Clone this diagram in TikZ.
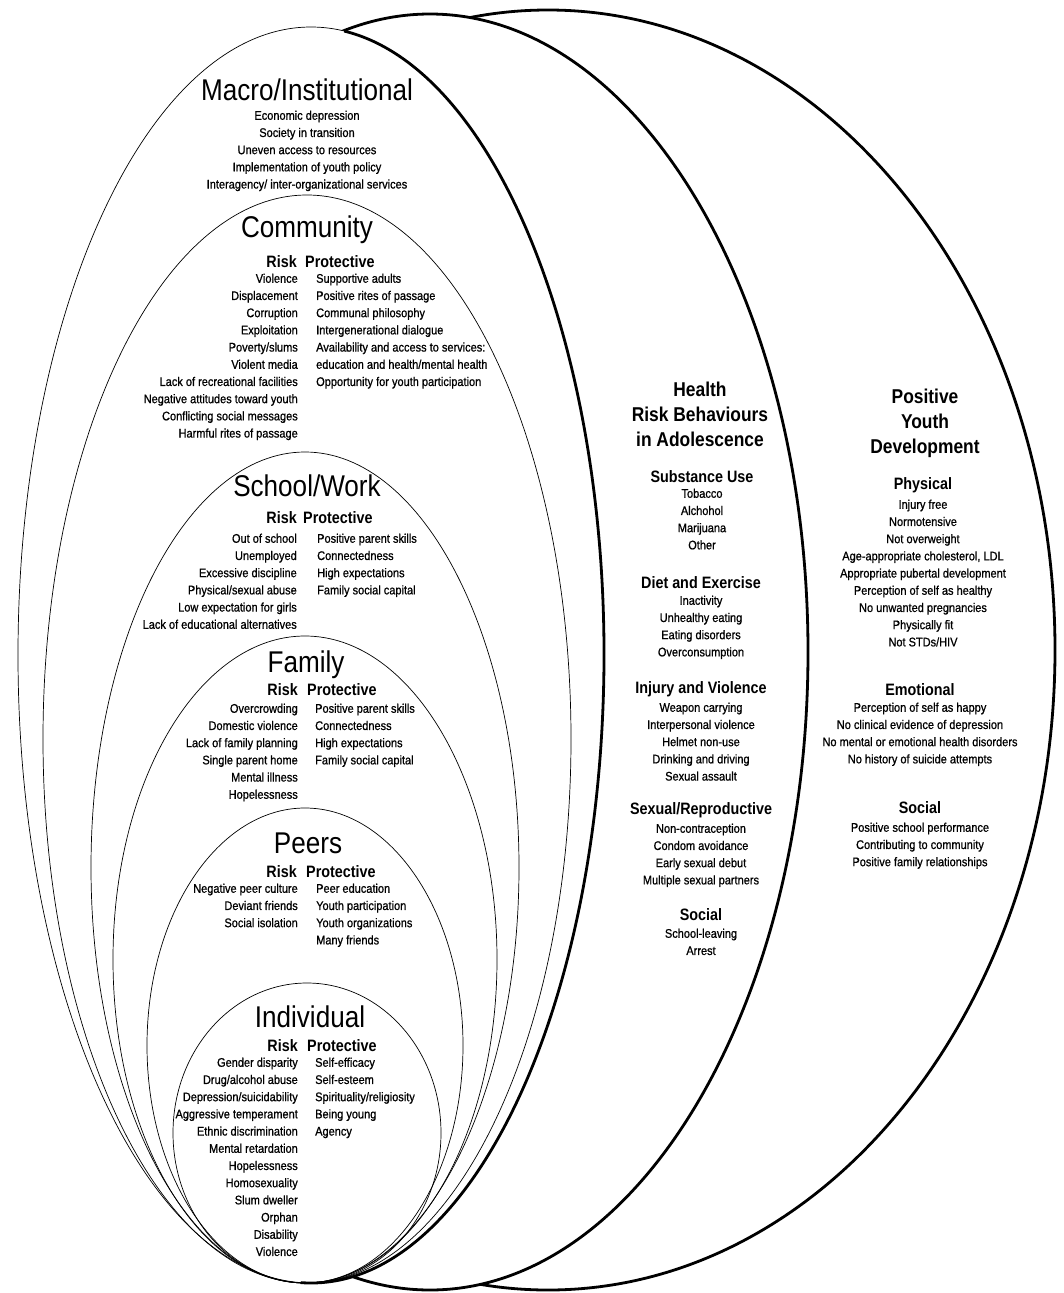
\documentclass[tikz,border=0pt]{standalone}
\usepackage{fontspec}
\setmainfont{Liberation Sans}[FakeStretch=0.87]
\newfontfamily\listfont{Liberation Sans}[FakeStretch=0.88, FakeBold=0.8]

\tikzset{
  thinring/.style={line width=0.7pt},
  boldring/.style={line width=2.8pt},
  layername/.style={inner sep=0pt, anchor=base, font=\fontsize{30}{32}\selectfont},
  colhead/.style={inner sep=0pt, font=\bfseries\fontsize{16.5}{18}\selectfont},
  outcome/.style={inner sep=0pt, anchor=north, align=center, font=\bfseries\fontsize{20}{25}\selectfont},
  items/.style={inner sep=0pt, font=\listfont\fontsize{12.5}{17.2}\selectfont},
  riskcol/.style={items, anchor=north east, align=right},
  protcol/.style={items, anchor=north west, align=left},
  midcol/.style={items, anchor=north, align=center},
}

\begin{document}
\begin{tikzpicture}[x=1pt,y=-1pt]
	\useasboundingbox (0,0) rectangle (1064,1293);
	% the three big rings
	\filldraw[boldring, fill=white] (548,650) ellipse [x radius=507, y radius=640];
	\filldraw[boldring, fill=white] (430,652) ellipse [x radius=378, y radius=638];
	\filldraw[thinring, fill=white] (311,655) ellipse [x radius=293, y radius=628];
	\draw[boldring] (311,655) ++(-83.5:293 and 628) arc [start angle=-83.5, end angle=92, x radius=293, y radius=628];
	% nested layers
	\draw[thinring] (307,739) ellipse [x radius=264, y radius=544];
	\draw[thinring] (305,867.5) ellipse [x radius=214, y radius=415.5];
	\draw[thinring] (305,959.5) ellipse [x radius=192, y radius=323.5];
	\draw[thinring] (305,1045.5) ellipse [x radius=158, y radius=237.5];
	\draw[thinring] (307,1133) ellipse [x radius=134, y radius=150];

	% macro
	\node[layername] (macro) at (307,100) {Macro/Institutional};
	\node[midcol] (macrolist) at (307,110.5) {Economic depression\\Society in transition\\Uneven access to resources\\Implementation of youth policy\\Interagency/ inter-organizational services};

	% community
	\node[layername] (comm) at (307,237) {Community};
	\node[colhead, anchor=base east] (commrisk) at (297,267) {Risk};
	\node[colhead, anchor=base west] (commprot) at (305,267) {Protective};
	\node[riskcol] (commrisklist) at (298,273.5) {Violence\\Displacement\\Corruption\\Exploitation\\Poverty/slums\\Violent media\\Lack of recreational facilities\\Negative attitudes toward youth\\Conflicting social messages\\Harmful rites of passage};
	\node[protcol] (commprotlist) at (316,273.5) {Supportive adults\\Positive rites of passage\\Communal philosophy\\Intergenerational dialogue\\Availability and access to services:\\education and health/mental health\\Opportunity for youth participation};

	% school/work
	\node[layername] (school) at (307,496) {School/Work};
	\node[colhead, anchor=base east] (schoolrisk) at (297,523) {Risk};
	\node[colhead, anchor=base west] (schoolprot) at (303,523) {Protective};
	\node[riskcol] (schoolrisklist) at (297,533.5) {Out of school\\Unemployed\\Excessive discipline\\Physical/sexual abuse\\Low expectation for girls\\Lack of educational alternatives};
	\node[protcol] (schoolprotlist) at (317,533.5) {Positive parent skills\\Connectedness\\High expectations\\Family social capital};

	% family
	\node[layername] (family) at (306,672) {Family};
	\node[colhead, anchor=base east] (familyrisk) at (298,695) {Risk};
	\node[colhead, anchor=base west] (familyprot) at (307,695) {Protective};
	\node[riskcol] (familyrisklist) at (298,703.5) {Overcrowding\\Domestic violence\\Lack of family planning\\Single parent home\\Mental illness\\Hopelessness};
	\node[protcol] (familyprotlist) at (315,703.5) {Positive parent skills\\Connectedness\\High expectations\\Family social capital};

	% peers
	\node[layername] (peers) at (308,853) {Peers};
	\node[colhead, anchor=base east] (peersrisk) at (297,877) {Risk};
	\node[colhead, anchor=base west] (peersprot) at (306,877) {Protective};
	\node[riskcol] (peersrisklist) at (298,883.5) {Negative peer culture\\Deviant friends\\Social isolation};
	\node[protcol] (peersprotlist) at (316,883.5) {Peer education\\Youth participation\\Youth organizations\\Many friends};

	% individual
	\node[layername] (indiv) at (310,1027) {Individual};
	\node[colhead, anchor=base east] (indivrisk) at (298,1051) {Risk};
	\node[colhead, anchor=base west] (indivprot) at (307,1051) {Protective};
	\node[riskcol] (indivrisklist) at (298,1057.5) {Gender disparity\\Drug/alcohol abuse\\Depression/suicidability\\Aggressive temperament\\Ethnic discrimination\\Mental retardation\\Hopelessness\\Homosexuality\\Slum dweller\\Orphan\\Disability\\Violence};
	\node[protcol] (indivprotlist) at (315,1057.5) {Self-efficacy\\Self-esteem\\Spirituality/religiosity\\Being young\\Agency};

	% health risk behaviours
	\node[outcome] (hrb) at (700,382) {Health\\Risk Behaviours\\in Adolescence};
	\node[colhead, anchor=base] (subst) at (702,482) {Substance Use};
	\node[midcol] (substlist) at (702,488.5) {Tobacco\\Alchohol\\Marijuana\\Other};
	\node[colhead, anchor=base] (diet) at (701,588) {Diet and Exercise};
	\node[midcol] (dietlist) at (701,595.5) {Inactivity\\Unhealthy eating\\Eating disorders\\Overconsumption};
	\node[colhead, anchor=base] (injury) at (701,693) {Injury and Violence};
	\node[midcol] (injurylist) at (701,702.5) {Weapon carrying\\Interpersonal violence\\Helmet non-use\\Drinking and driving\\Sexual assault};
	\node[colhead, anchor=base] (sexual) at (701,814) {Sexual/Reproductive};
	\node[midcol] (sexuallist) at (701,823.5) {Non-contraception\\Condom avoidance\\Early sexual debut\\Multiple sexual partners};
	\node[colhead, anchor=base] (hsocial) at (701,920) {Social};
	\node[midcol] (hsociallist) at (701,928.5) {School-leaving\\Arrest};

	% positive youth development
	\node[outcome] (pyd) at (925,389) {Positive\\Youth\\Development};
	\node[colhead, anchor=base] (phys) at (923,489) {Physical};
	\node[midcol] (physlist) at (923,499.5) {Injury free\\Normotensive\\Not overweight\\Age-appropriate cholesterol, LDL\\Appropriate pubertal development\\Perception of self as healthy\\No unwanted pregnancies\\Physically fit\\Not STDs/HIV};
	\node[colhead, anchor=base] (emo) at (920,695) {Emotional};
	\node[midcol] (emolist) at (920,702.5) {Perception of self as happy\\No clinical evidence of depression\\No mental or emotional health disorders\\No history of suicide attempts};
	\node[colhead, anchor=base] (psocial) at (920,813) {Social};
	\node[midcol] (psociallist) at (920,822.5) {Positive school performance\\Contributing to community\\Positive family relationships};
\end{tikzpicture}
\end{document}
